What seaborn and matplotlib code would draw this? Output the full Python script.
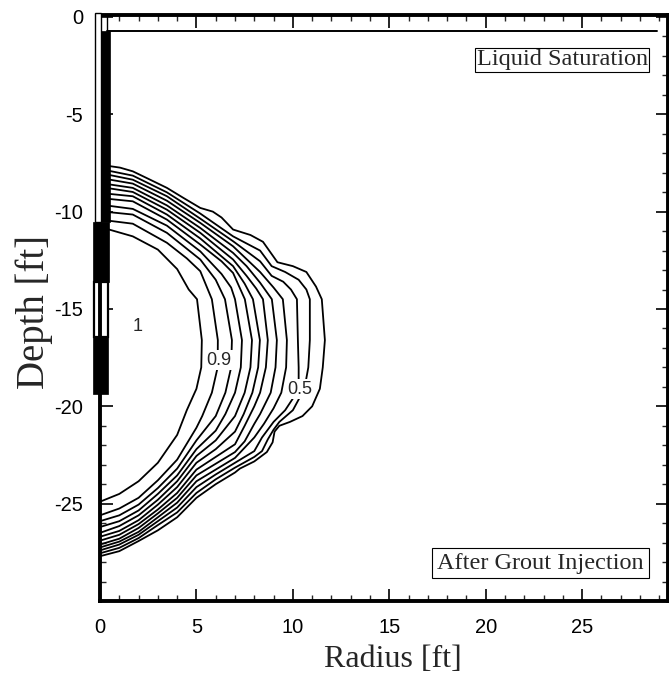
import numpy as np
import pandas as pd
import seaborn as sns
import matplotlib.pyplot as plt
from matplotlib.patches import Rectangle
from matplotlib.ticker import MultipleLocator

# contour lines, radius [ft] / depth [ft]
r_095 = [0, 0.4, 1.7, 3.0, 4.0, 4.6, 5.03, 5.28, 5.25, 5.0, 4.5, 4.0, 3.0, 2.0, 1.0, 0]
z_095 = [-10.89, -10.9, -11.27, -11.95, -12.95, -14.0, -14.5, -16.6, -18.0, -19.1, -20.2, -21.47, -22.9, -23.85, -24.5, -24.9]

r_090 = [0, 1.7, 3.47, 4.5, 5.2, 5.8, 6.11, 6.1, 5.8, 5.3, 5.0, 4.0, 3.0, 2.0, 1.0, 0]
z_090 = [-10.41, -10.62, -11.6, -12.4, -13.06, -14.5, -16.6, -18.0, -19.3, -20.5, -21.1, -22.74, -23.8, -24.7, -25.25, -25.6]

r_085 = [0, 1.7, 3.47, 5.2, 6.0, 6.48, 6.84, 6.8, 6.5, 6.0, 5.0, 4.0, 3.0, 2.0, 1.0, 0]
z_085 = [-9.98, -10.15, -11.09, -12.46, -13.5, -14.5, -16.6, -18.0, -19.3, -20.5, -21.75, -23.2, -24.2, -25.05, -25.6, -25.9]

r_080 = [0, 1.7, 3.47, 5.2, 6.3, 6.8, 7.0, 7.36, 7.3, 7.0, 6.5, 6.0, 5.0, 4.0, 3.0, 2.0, 1.0, 0]
z_080 = [-9.64, -9.86, -10.72, -12.04, -13.2, -13.9, -14.5, -16.6, -18.0, -19.3, -20.4, -21.25, -22.2, -23.55, -24.5, -25.35, -25.9, -26.2]

r_075 = [0, 1.7, 3.47, 5.2, 6.3, 6.9, 7.51, 7.88, 7.8, 7.5, 7.0, 6.0, 5.0, 4.0, 3.0, 2.0, 1.0, 0]
z_075 = [-9.3, -9.47, -10.41, -11.69, -12.55, -13.15, -14.5, -16.6, -18.0, -19.3, -20.5, -21.75, -22.55, -23.85, -24.8, -25.6, -26.15, -26.5]

r_070 = [0, 1.7, 3.47, 5.2, 6.9, 7.5, 7.93, 8.29, 8.2, 7.9, 7.45, 7.0, 6.0, 5.0, 4.0, 3.0, 2.0, 1.0, 0]
z_070 = [-9.04, -9.21, -10.15, -11.38, -12.8, -13.7, -14.5, -16.6, -18.0, -19.3, -20.4, -21.3, -22.2, -22.9, -24.15, -25.05, -25.85, -26.4, -26.7]

r_065 = [0, 1.7, 3.47, 5.2, 6.9, 7.6, 8.1, 8.45, 8.7, 8.6, 8.3, 8.0, 7.5, 7.0, 6.0, 5.0, 4.0, 3.0, 2.0, 1.0, 0]
z_065 = [-8.73, -8.99, -9.9, -11.09, -12.46, -13.3, -13.95, -14.5, -16.6, -18.0, -19.3, -20.0, -21.0, -21.95, -22.6, -23.25, -24.45, -25.3, -26.05, -26.6, -26.9]

r_060 = [0, 1.7, 3.47, 5.2, 6.9, 7.6, 8.3, 8.91, 9.17, 9.1, 8.85, 8.3, 8.0, 7.5, 7.0, 6.0, 5.0, 4.0, 3.0, 2.0, 1.0, 0]
z_060 = [-8.53, -8.78, -9.68, -10.84, -12.12, -12.8, -13.65, -14.5, -16.6, -18.0, -19.3, -20.4, -20.9, -21.8, -22.35, -22.95, -23.55, -24.7, -25.5, -26.25, -26.8, -27.1]

r_055 = [0, 1.7, 3.47, 5.2, 6.9, 8.3, 9.0, 9.48, 9.69, 9.65, 9.4, 9.0, 8.5, 8.0, 7.0, 6.0, 5.0, 4.0, 3.0, 2.0, 1.0, 0]
z_055 = [-8.27, -8.56, -9.44, -10.58, -11.78, -13.1, -13.9, -14.5, -16.6, -18.0, -19.3, -20.1, -20.9, -21.6, -22.65, -23.25, -23.85, -24.95, -25.7, -26.45, -26.95, -27.25]

r_050 = [0, 1.7, 3.47, 5.2, 6.9, 8.3, 8.9, 9.5, 9.9, 10.21, 10.26, 10.3, 10.3, 10.0, 9.6, 9.0, 8.4, 8.0, 7.0, 6.0, 5.0, 4.0, 3.0, 2.0, 1.0, 0]
z_050 = [-8.02, -8.36, -9.21, -10.36, -11.52, -12.55, -13.3, -13.6, -14.0, -14.5, -16.6, -18.0, -19.1, -19.6, -20.2, -20.8, -21.6, -22.3, -22.9, -23.5, -24.15, -25.2, -25.9, -26.6, -27.1, -27.4]

r_045 = [0, 1.7, 3.47, 5.2, 6.9, 8.3, 8.9, 9.6, 10.3, 10.7, 10.88, 10.88, 10.8, 10.6, 10.0, 9.3, 9.0, 8.7, 8.4, 8.0, 7.0, 6.0, 5.0, 4.0, 3.0, 2.0, 1.0, 0]
z_045 = [-7.81, -8.15, -9.01, -10.1, -11.27, -12.0, -12.8, -13.1, -13.5, -14.0, -14.5, -16.6, -18.0, -19.1, -20.2, -20.8, -21.2, -21.7, -22.3, -22.6, -23.15, -23.75, -24.45, -25.45, -26.1, -26.77, -27.27, -27.55]

r_040 = [0, 1.04, 1.7, 2.6, 3.47, 4.3, 5.2, 5.85, 6.3, 6.9, 7.8, 8.45, 9.2, 10.0, 10.7, 11.2, 11.5, 11.66, 11.55, 11.4, 11.0, 10.5, 9.85, 9.3, 9.05, 8.95, 8.65, 8.0, 7.25, 7.0, 6.0, 5.0, 4.0, 3.0, 2.0, 1.0, 0]
z_040 = [-7.59, -7.74, -7.93, -8.36, -8.78, -9.28, -9.81, -10.0, -10.3, -10.92, -11.2, -11.55, -12.6, -12.8, -13.1, -13.85, -14.5, -16.6, -18.0, -19.1, -20.0, -20.5, -20.8, -21.0, -21.3, -21.85, -22.35, -22.83, -23.2, -23.4, -24.0, -24.7, -25.7, -26.37, -26.92, -27.44, -27.7]

lines = [(0.95, r_095, z_095), (0.9, r_090, z_090), (0.85, r_085, z_085), (0.8, r_080, z_080),
         (0.75, r_075, z_075), (0.7, r_070, z_070), (0.65, r_065, z_065), (0.6, r_060, z_060),
         (0.55, r_055, z_055), (0.5, r_050, z_050), (0.45, r_045, z_045), (0.4, r_040, z_040)]

# inline labels: text, radius, depth
label_text = ['1', '0.9', '0.5']
label_r = [1.97, 6.17, 10.36]
label_z = [-15.9, -17.64, -19.13]

frames = []
for lev, rr, zz in lines:
    frames.append(pd.DataFrame({'r': rr, 'z': zz, 'level': lev}))
df = pd.concat(frames, ignore_index=True)

sns.set_theme(style="ticks")
plt.rcParams['font.family'] = ['Liberation Sans', 'DejaVu Sans']
plt.rcParams['axes.unicode_minus'] = False

fig = plt.figure(figsize=(6.69, 6.90), dpi=100)
ax = fig.add_axes([100/669, 1 - 601/690, 568/669, 586/690])

sns.lineplot(data=df, x='r', y='z', units='level', estimator=None, sort=False,
             color='black', lw=1.3, ax=ax, legend=False)

for t, x, y in zip(label_text, label_r, label_z):
    if t == '1':
        ax.text(x, y, t, ha='center', va='center', fontsize=13, zorder=5)
    else:
        ax.text(x, y, t, ha='center', va='center', fontsize=13, zorder=5,
                bbox=dict(boxstyle='square,pad=0.08', fc='white', ec='none'))

# well: casing, pipe, packers, screen
ax.add_patch(Rectangle((-0.24, -10.55), 0.28, 10.75, fc='white', ec='black', lw=1.0, clip_on=False, zorder=3))
ax.add_patch(Rectangle((0.04, -10.55), 0.46, 9.85, fc='black', ec='black', lw=0.5, clip_on=False, zorder=3))
ax.add_patch(Rectangle((-0.35, -13.6), 0.84, 3.05, fc='black', ec='black', lw=0.5, clip_on=False, zorder=3))
ax.add_patch(Rectangle((-0.3, -16.46), 0.7, 2.86, fc='white', ec='black', lw=1.6, clip_on=False, zorder=2))
ax.add_patch(Rectangle((-0.35, -19.38), 0.77, 2.92, fc='black', ec='black', lw=0.5, clip_on=False, zorder=3))
ax.plot([0.35, 28.9], [-0.7, -0.7], color='black', lw=1.4)
ax.plot([0.35, 0.35], [0.1, -0.7], color='black', lw=1.0)

ax.text(28.4, -2.2, 'Liquid Saturation', ha='right', va='center', fontsize=17.5,
        family='Liberation Serif',
        bbox=dict(boxstyle='square,pad=0.06', fc='white', ec='black', lw=0.8))
ax.text(28.2, -28.05, 'After Grout Injection', ha='right', va='center', fontsize=17.5,
        family='Liberation Serif',
        bbox=dict(boxstyle='square,pad=0.2', fc='white', ec='black', lw=0.8))

ax.set_xlim(0, 29.45)
ax.set_ylim(-30, 0.1)
ax.xaxis.set_major_locator(MultipleLocator(5))
ax.xaxis.set_minor_locator(MultipleLocator(1))
ax.yaxis.set_major_locator(MultipleLocator(5))
ax.yaxis.set_minor_locator(MultipleLocator(1))
ax.set_yticks([0, -5, -10, -15, -20, -25])
ax.tick_params(which='major', direction='in', length=9, width=1.2, top=True, right=True,
               labelsize=14.5, pad=12, colors='black')
ax.tick_params(which='minor', direction='in', length=4, width=1.0, top=True, right=True)
for s in ax.spines.values():
    s.set_linewidth(2.8)
    s.set_color('black')

ax.set_xlabel('Radius [ft]', fontsize=23, family='Liberation Serif', labelpad=6)
ax.set_ylabel('Depth [ft]', fontsize=28, family='Liberation Serif', labelpad=1)
ax.xaxis.label.set_x(0.516)
ax.yaxis.label.set_y(0.493)

fig.savefig('out.png', dpi=100)
